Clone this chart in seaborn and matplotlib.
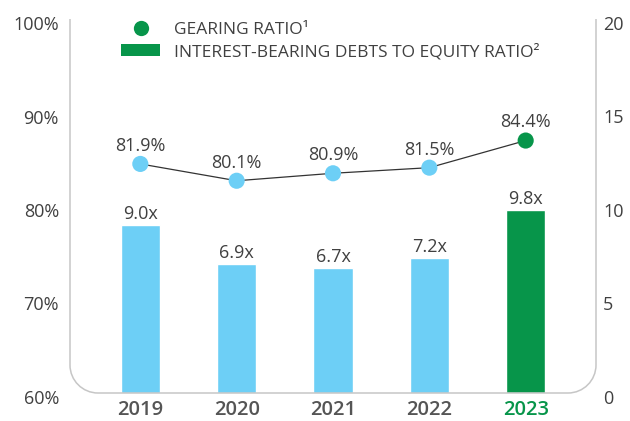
import matplotlib
matplotlib.use("Agg")
import matplotlib.pyplot as plt
import matplotlib.transforms as mtrans
import seaborn as sns
import numpy as np
import pandas as pd
from matplotlib.path import Path
from matplotlib.patches import PathPatch, Patch
from matplotlib.lines import Line2D
from matplotlib.ticker import FuncFormatter

years = ["2019", "2020", "2021", "2022", "2023"]
gearing = [81.9, 80.1, 80.9, 81.5, 84.4]
debt_equity = [9.0, 6.9, 6.7, 7.2, 9.8]
left_ticks = [60, 70, 80, 90, 100]
right_ticks = [0, 5, 10, 15, 20]
legend_labels = ["GEARING RATIO\u00b9", "INTEREST-BEARING DEBTS TO EQUITY RATIO\u00b2"]

BLUE = "#6DCFF6"
GREEN = "#07954A"
TXT = "#404040"
FRAME = "#C6C6C6"
colors = [BLUE, BLUE, BLUE, BLUE, GREEN]

sns.set_theme(style="white")
plt.rcParams["font.family"] = ["Open Sans", "DejaVu Sans"]

W, H = 630, 421
fig = plt.figure(figsize=(W / 100, H / 100), dpi=100)
ax_l, ax_r_px, ax_t, ax_b = 70, 596, 19, 393
ax = fig.add_axes([ax_l / W, (H - ax_b) / H, (ax_r_px - ax_l) / W, (ax_b - ax_t) / H])

shift = mtrans.ScaledTranslation(0, -4 / 100, fig.dpi_scale_trans)

ax.set_ylim(60, 100)
ax.set_yticks(left_ticks)
ax.yaxis.set_major_formatter(FuncFormatter(lambda v, p: f"{v:.0f}%"))
ax.tick_params(axis="y", length=0, pad=8, labelsize=13, labelcolor=TXT)

ax2 = ax.twinx()
df = pd.DataFrame({"year": years, "ratio": debt_equity})
sns.barplot(data=df, x="year", y="ratio", hue="year", palette=colors, order=years,
            width=0.405, legend=False, ax=ax2, saturation=1)
ax2.set_ylim(0, 20)
ax2.set_yticks(right_ticks)
ax2.tick_params(axis="y", length=0, pad=5, labelsize=13, labelcolor=TXT)
ax2.set_xlabel("")
ax2.set_ylabel("")
for i, v in enumerate(debt_equity):
    ax2.annotate(f"{v:.1f}x", (i, v), xytext=(0, 8.0), textcoords="offset points",
                 ha="center", va="center", fontsize=13, color=TXT)

ax3 = ax.twinx()
ax3.set_ylim(57.4, 97.4)
xs = np.arange(len(years))
sns.lineplot(x=xs, y=gearing, color="#333333", linewidth=0.9, ax=ax3)
sns.scatterplot(x=xs, y=gearing, hue=years, palette=colors, s=135, linewidth=0,
                legend=False, ax=ax3, zorder=5)
for i, v in enumerate(gearing):
    ax3.annotate(f"{v:.1f}%", (i, v), xytext=(0, 13.0), textcoords="offset points",
                 ha="center", va="center", fontsize=13, color=TXT)
ax3.set_yticks([])

for a in (ax, ax2, ax3):
    for s in a.spines.values():
        s.set_visible(False)
    a.patch.set_visible(False)
    a.grid(False)
    a.set_xlabel("")
    a.set_ylabel("")

ax.set_xlim(-0.73, 4.73)
ax.set_xticks(xs)
ax.set_xticklabels(years)
ax.tick_params(axis="x", length=0, pad=5, labelsize=14.5)
for lbl, c in zip(ax.get_xticklabels(), ["#555555"] * 4 + [GREEN]):
    lbl.set_color(c)
    lbl.set_fontweight("semibold")
ax2.tick_params(axis="x", labelbottom=False, length=0)
ax3.tick_params(axis="x", labelbottom=False, length=0)

for a in (ax, ax2):
    for lbl in a.get_yticklabels():
        lbl.set_transform(lbl.get_transform() + shift)

# rounded U-shaped frame
L, R, T, B, r = 70, 596, H - 19, H - 393, 28
k = 0.5523 * r
pts = [(L, T), (L, B + r), (L, B + r - k), (L + r - k, B), (L + r, B),
       (R - r, B), (R - r + k, B), (R, B + r - k), (R, B + r), (R, T)]
codes = [Path.MOVETO, Path.LINETO, Path.CURVE4, Path.CURVE4, Path.CURVE4,
         Path.LINETO, Path.CURVE4, Path.CURVE4, Path.CURVE4, Path.LINETO]
pts = [(x / W, y / H) for x, y in pts]
fig.add_artist(PathPatch(Path(pts, codes), transform=fig.transFigure, fill=False,
                         edgecolor=FRAME, linewidth=1.1, zorder=5))

handles = [Line2D([], [], marker="o", linestyle="none", markersize=11,
                  markerfacecolor=GREEN, markeredgewidth=0),
           Patch(facecolor=GREEN, edgecolor="none")]
fig.legend(handles, legend_labels, loc="upper left",
           bbox_to_anchor=(121 / W, (H - 22) / H), frameon=False, fontsize=12.5,
           handlelength=2.25, handleheight=0.62, handletextpad=0.8,
           labelspacing=0.32, borderpad=0, borderaxespad=0, labelcolor=TXT)

fig.savefig("out.png", dpi=100)
